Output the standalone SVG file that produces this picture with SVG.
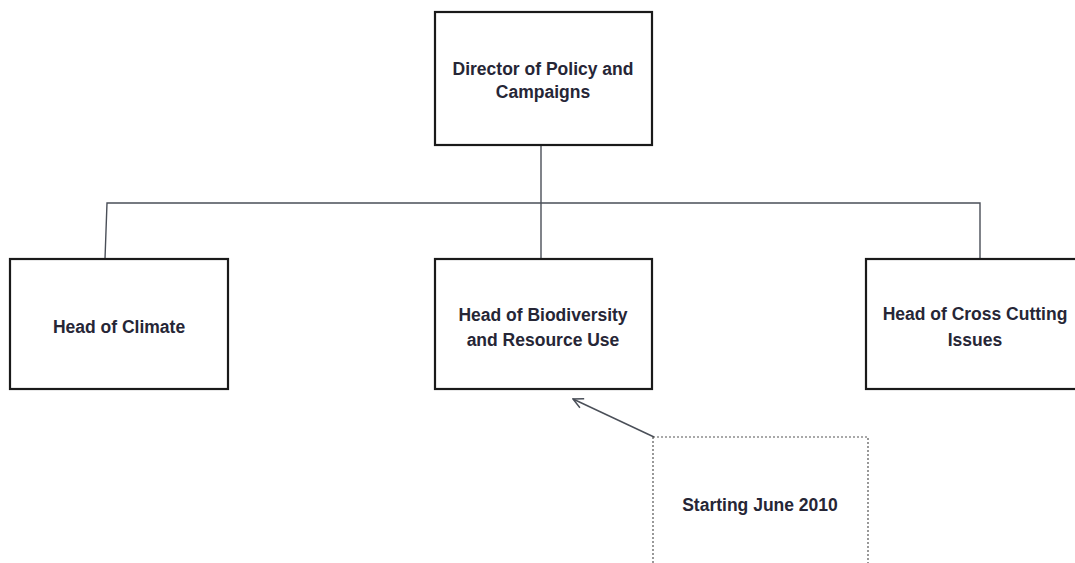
<svg xmlns="http://www.w3.org/2000/svg" width="1075" height="563" viewBox="0 0 1075 563">
<style>
.box{fill:#fff;stroke:#1a1a1a;stroke-width:2.2}
.t{font-family:"Liberation Sans",Arial,sans-serif;font-weight:bold;font-size:17.5px;fill:#262636;text-anchor:middle}
.c{fill:none;stroke:#4a4f58;stroke-width:1.4}
</style>
<defs>
<marker id="ah" viewBox="0 0 12 12" refX="11" refY="6" markerWidth="12" markerHeight="12" markerUnits="userSpaceOnUse" orient="auto">
<path d="M1,1 L11,6 L1,11" fill="none" stroke="#4a4f58" stroke-width="1.5"/>
</marker>
</defs>
<rect width="1075" height="563" fill="#fff"/>
<g id="connectors">
<line class="c" x1="541" y1="145" x2="541" y2="259" stroke="#111"/>
<path class="c" d="M105,259 L107,203 L980,203 L980,259"/>
<line class="c" x1="654" y1="437" x2="573" y2="399" marker-end="url(#ah)"/>
</g>
<g id="director">
<rect class="box" x="435" y="12" width="217" height="133"/>
<text class="t" x="543" y="75">Director of Policy and</text>
<text class="t" x="543" y="98">Campaigns</text>
</g>
<g id="climate">
<rect class="box" x="10" y="259" width="218" height="130"/>
<text class="t" x="119" y="333">Head of Climate</text>
</g>
<g id="biodiversity">
<rect class="box" x="435" y="259" width="217" height="130"/>
<text class="t" x="543" y="321">Head of Biodiversity</text>
<text class="t" x="543" y="346">and Resource Use</text>
</g>
<g id="crosscutting">
<rect class="box" x="866" y="259" width="218" height="130"/>
<text class="t" x="975" y="320">Head of Cross Cutting</text>
<text class="t" x="975" y="346">Issues</text>
</g>
<g id="note">
<rect x="653" y="437" width="215" height="140" fill="none" stroke="#555" stroke-width="1.2" stroke-dasharray="2,2"/>
<text class="t" x="760" y="511">Starting June 2010</text>
</g>
</svg>
